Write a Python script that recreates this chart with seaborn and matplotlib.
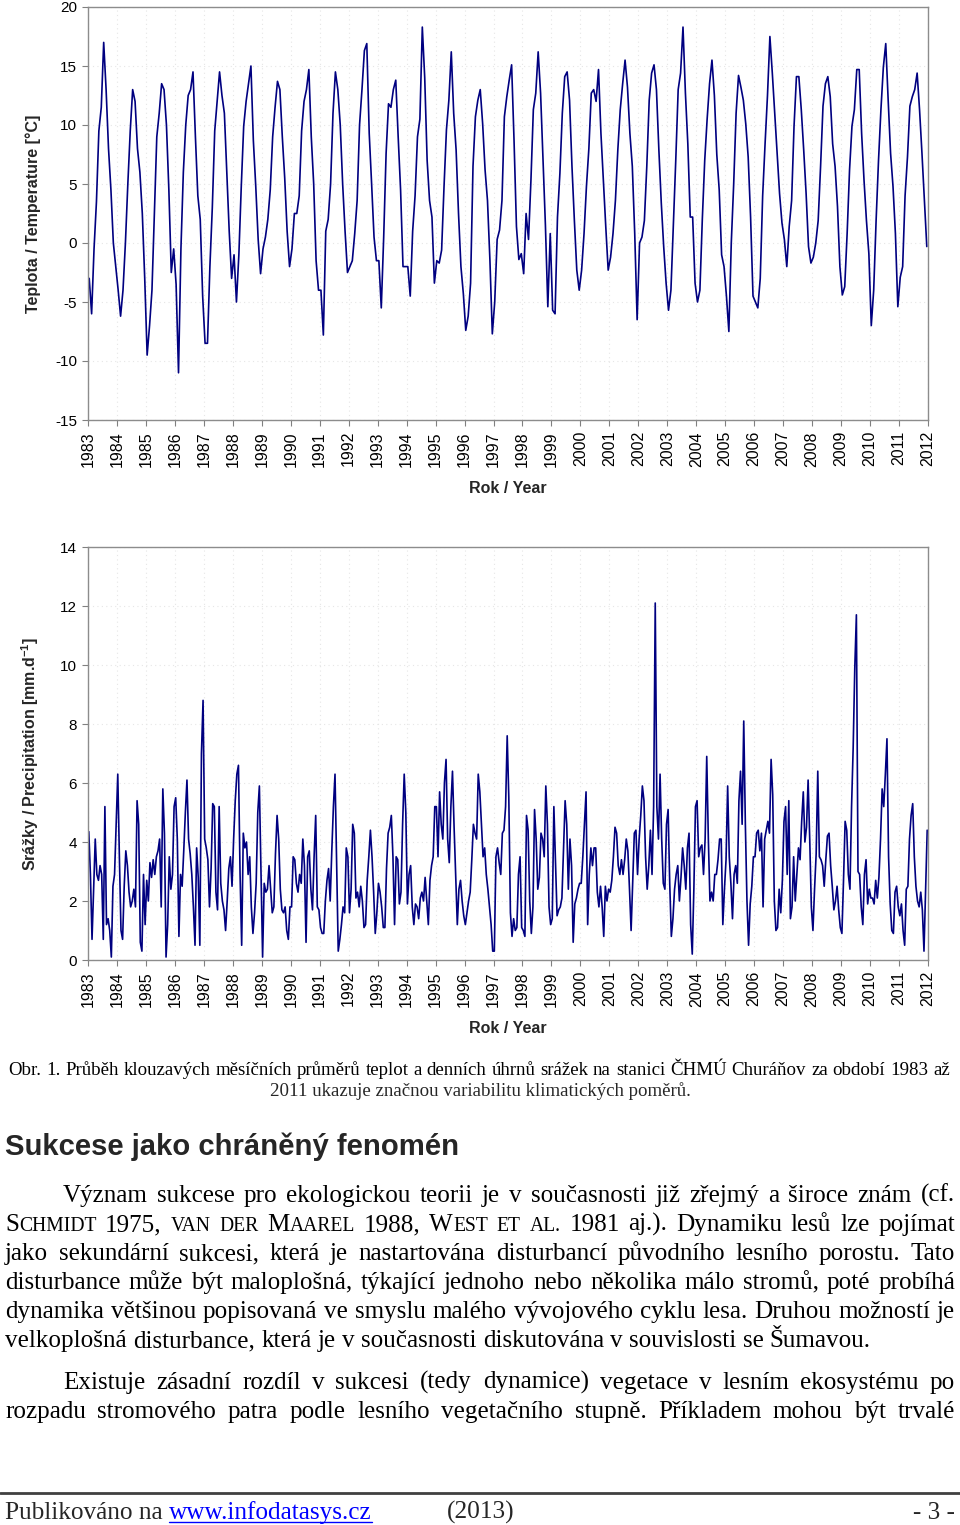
import matplotlib
matplotlib.use("Agg")
import matplotlib.pyplot as plt
import matplotlib.transforms as mtransforms
from matplotlib.lines import Line2D
import pandas as pd
import seaborn as sns

# roky s daty (klouzavé průměry 1983-2011) a popisky osy x
roky = list(range(1983, 2012))
popisky_let = [str(r) for r in range(1983, 2013)]

# klouzavé měsíční průměry teplot [°C], řádek = rok, sloupce leden..prosinec
teplota = [
    [-3, -6, -0.5, 3.5, 9.5, 11.5, 17, 13, 8, 4.5, 0, -2],            # 1983
    [-4, -6.2, -4, 0, 5, 9.5, 13, 12, 8, 6, 2.5, -3],                 # 1984
    [-9.5, -7, -4, 2.5, 9, 11, 13.5, 13, 10, 4.5, -2.5, -0.5],        # 1985
    [-3.5, -11, -0.5, 6, 10, 12.5, 13, 14.5, 9, 4, 2, -4.5],          # 1986
    [-8.5, -8.5, -2, 3, 9.5, 12, 14.5, 12.5, 11, 6, 1, -3],           # 1987
    [-1, -5, -1, 4.8, 9.9, 12, 13.5, 15, 8.7, 4.8, 0.3, -2.6],        # 1988
    [-0.5, 0.5, 2, 4.5, 9, 11.5, 13.7, 13, 9, 5.5, 1, -2],            # 1989
    [-0.5, 2.5, 2.5, 4, 9.5, 12, 13, 14.7, 9, 5, -1.5, -4],           # 1990
    [-4, -7.8, 1, 2, 5, 11, 14.5, 13, 10, 5, 1, -2.5],                # 1991
    [-2, -1.5, 0.8, 3.6, 10, 13, 16.3, 16.9, 9.3, 5, 0.5, -1.5],      # 1992
    [-1.5, -5.5, 0.5, 7.6, 11.8, 11.5, 13, 13.8, 9, 4.5, -2, -2],     # 1993
    [-2, -4.5, 1, 4, 9, 10.5, 18.3, 14, 7, 3.6, 2.2, -3.4],           # 1994
    [-1.5, -1.7, -0.6, 4.8, 9.6, 12.1, 16.2, 11, 7.9, 2.5, -2, -4.3], # 1995
    [-7.4, -6.2, -3.4, 6.5, 10.7, 12.1, 13, 10.1, 6.2, 3.6, -1.4, -7.7],  # 1996
    [-5, 0.3, 1.1, 3.6, 10.7, 12.4, 13.8, 15.1, 8.7, 1.4, -1.4, -0.9],    # 1997
    [-2.6, 2.5, 0.3, 5.3, 11.3, 12.7, 16.2, 12.7, 7, 1.5, -5.4, 0.8],     # 1998
    [-5.7, -6, 2.2, 5.9, 11, 14.1, 14.5, 12.1, 6.5, 1.9, -2.3, -4],       # 1999
    [-2.3, 0.8, 4.8, 8, 12.7, 13, 12, 14.7, 9.3, 5.3, 1.4, -2.3],         # 2000
    [-1.2, 0.8, 3.6, 7.9, 11.3, 13.5, 15.5, 13.2, 9.3, 6.5, 0.8, -6.5],   # 2001
    [0, 0.5, 1.9, 6.5, 12.1, 14.4, 15.1, 13, 7.9, 3.4, -0.3, -3.4],       # 2002
    [-5.7, -4, 1.4, 7, 13, 14.4, 18.3, 12.7, 8.4, 2.2, 2.2, -3.4],        # 2003
    [-5, -4, 2, 7, 10.5, 13.5, 15.5, 12.5, 7.5, 4.5, -1, -2],             # 2004
    [-4.5, -7.5, 0, 5, 11, 14.2, 13.2, 12.1, 10.1, 7.3, 2.2, -4.5],       # 2005
    [-5, -5.5, -3, 4, 8.4, 12.5, 17.5, 14.4, 11, 7.6, 4.2, 1.7],          # 2006
    [0.3, -2, 1.4, 3.6, 9.9, 14.1, 14.1, 11.3, 7.9, 4.2, -0.3, -1.7],     # 2007
    [-1.2, 0, 1.9, 6.5, 11.6, 13.5, 14.1, 12.4, 8.4, 6.5, 3.1, -2],       # 2008
    [-4.4, -3.7, 0.8, 6.2, 9.9, 11.3, 14.7, 14.7, 9.3, 5.3, 1.9, -0.9],   # 2009
    [-7, -4, 1.9, 7, 11.3, 14.9, 16.9, 12.1, 7.6, 4.8, 0.8, -5.4],        # 2010
    [-2.9, -2, 4, 7.3, 11.6, 12.4, 13, 14.4, 11.3, 7.6, 3.6, -0.3],       # 2011
]

# klouzavé průměry denních srážek [mm/d], 18 hodnot na rok
srazky = [
    [4.35, 2.9, 0.7, 2.4, 4.1, 2.9, 2.7, 3.2, 2.9, 0.7, 5.2, 1.2, 1.4, 1.0, 0.1, 2.5, 2.9, 4.6],  # 1983
    [6.3, 3.5, 1.0, 0.7, 2.5, 3.7, 3.2, 2.3, 1.8, 2.0, 2.4, 1.8, 5.4, 4.6, 0.6, 0.3, 2.9, 1.2],   # 1984
    [2.7, 2.0, 3.3, 2.8, 3.4, 2.9, 3.5, 3.7, 4.1, 1.8, 5.8, 4.3, 0.1, 1.2, 3.5, 2.4, 2.9, 5.2],   # 1985
    [5.5, 4.1, 0.8, 2.9, 2.5, 3.7, 5.0, 6.1, 4.1, 3.6, 2.9, 1.8, 0.5, 3.8, 2.8, 0.5, 7.0, 8.8],   # 1986
    [4.1, 3.8, 3.4, 1.8, 3.1, 5.3, 5.2, 2.3, 1.7, 5.2, 2.6, 2.0, 1.7, 1.0, 2.0, 3.1, 3.5, 2.5],   # 1987
    [4.1, 5.4, 6.3, 6.6, 2.9, 0.5, 4.3, 3.8, 4.0, 2.9, 3.5, 1.8, 0.9, 1.6, 2.6, 5.0, 5.9, 2.9],   # 1988
    [0.1, 2.6, 2.3, 2.4, 3.2, 2.4, 1.6, 1.8, 3.6, 4.9, 4.1, 2.4, 1.7, 1.6, 1.8, 1.0, 0.7, 1.8],   # 1989
    [1.8, 3.5, 3.4, 2.6, 2.3, 2.9, 2.6, 4.1, 3.2, 0.6, 3.5, 3.7, 2.4, 1.7, 3.5, 4.9, 1.8, 1.7],   # 1990
    [1.1, 0.9, 0.9, 2.0, 2.7, 3.1, 2.0, 3.7, 5.2, 6.3, 3.2, 0.3, 0.7, 1.2, 1.8, 1.6, 3.8, 3.5],   # 1991
    [1.6, 2.4, 4.6, 4.3, 2.1, 2.3, 1.8, 2.5, 2.0, 1.1, 1.2, 2.7, 3.5, 4.4, 3.5, 2.3, 0.9, 1.6],   # 1992
    [2.6, 2.3, 1.8, 1.1, 1.1, 3.1, 4.3, 4.5, 4.9, 3.5, 1.2, 3.5, 3.4, 1.9, 2.3, 4.6, 6.3, 5.0],   # 1993
    [1.9, 2.9, 3.2, 1.8, 1.2, 1.9, 1.8, 1.4, 2.1, 2.3, 2.0, 2.8, 2.0, 1.2, 2.7, 3.2, 3.5, 5.2],   # 1994
    [5.2, 3.5, 5.7, 4.6, 4.1, 6.0, 6.8, 4.1, 3.3, 5.2, 6.4, 4.5, 2.9, 1.2, 2.4, 2.7, 2.0, 1.5],   # 1995
    [1.2, 1.6, 2.0, 2.3, 3.4, 4.6, 4.3, 4.1, 6.3, 5.7, 4.6, 3.5, 3.8, 2.9, 2.4, 1.8, 1.2, 0.3],   # 1996
    [0.3, 3.5, 3.8, 3.3, 2.9, 4.3, 4.4, 5.2, 7.6, 5.5, 1.6, 0.8, 1.4, 1.0, 1.1, 2.9, 3.5, 1.1],   # 1997
    [1.0, 0.8, 4.9, 4.4, 2.0, 0.9, 1.8, 5.1, 4.1, 2.4, 2.8, 4.3, 4.1, 3.5, 5.9, 4.6, 1.8, 1.2],   # 1998
    [1.4, 5.2, 3.4, 1.5, 1.7, 1.8, 2.1, 3.7, 5.4, 4.6, 2.4, 4.1, 3.2, 0.6, 1.9, 2.1, 2.4, 2.6],   # 1999
    [2.6, 3.5, 4.6, 5.7, 1.2, 2.9, 3.8, 3.2, 3.8, 3.8, 2.3, 1.8, 2.5, 1.8, 0.8, 2.5, 2.0, 2.4],   # 2000
    [2.3, 2.7, 3.5, 4.5, 4.3, 3.2, 2.9, 3.4, 2.9, 3.4, 4.1, 3.7, 2.4, 1.0, 2.7, 4.3, 4.4, 2.9],   # 2001
    [4.1, 4.9, 5.9, 5.4, 3.5, 2.4, 3.2, 4.4, 2.9, 5.2, 12.1, 5.2, 4.1, 6.3, 4.1, 2.6, 2.4, 4.6],  # 2002
    [5.1, 2.6, 0.8, 1.4, 2.4, 2.9, 3.2, 2.0, 2.8, 3.8, 3.2, 2.4, 3.8, 4.3, 1.2, 0.2, 2.4, 5.2],   # 2003
    [5.4, 3.5, 3.8, 3.9, 2.9, 4.1, 6.9, 4.1, 2.0, 2.3, 2.0, 2.9, 2.9, 3.4, 4.1, 4.1, 1.2, 2.4],   # 2004
    [3.4, 5.9, 3.5, 2.6, 1.4, 2.9, 3.2, 2.6, 5.4, 6.4, 4.6, 8.1, 4.6, 2.0, 0.5, 1.9, 2.5, 3.5],   # 2005
    [3.5, 4.3, 4.4, 3.7, 4.3, 1.8, 4.1, 4.4, 4.7, 4.3, 6.8, 5.6, 2.0, 1.0, 1.1, 2.4, 1.6, 2.7],   # 2006
    [4.7, 5.2, 2.9, 5.4, 1.4, 1.8, 3.5, 2.0, 2.9, 3.8, 3.4, 4.7, 5.7, 4.0, 4.5, 6.1, 4.1, 1.8],   # 2007
    [1.0, 2.4, 3.6, 6.4, 3.5, 3.4, 3.2, 2.5, 3.4, 4.2, 4.3, 3.2, 2.5, 1.7, 2.0, 2.5, 1.7, 1.1],   # 2008
    [0.9, 2.7, 4.7, 4.4, 2.9, 2.4, 5.2, 7.2, 9.9, 11.7, 3.0, 2.9, 1.8, 1.2, 2.9, 3.4, 1.9, 2.4],  # 2009
    [2.1, 2.1, 1.9, 2.7, 2.1, 2.8, 4.1, 5.8, 5.2, 6.3, 7.5, 3.5, 1.9, 1.0, 0.9, 2.3, 2.5, 1.8],   # 2010
    [1.5, 1.9, 1.0, 0.5, 2.4, 2.5, 4.1, 4.9, 5.3, 3.5, 2.5, 2.0, 1.8, 2.3, 1.7, 0.3, 2.4, 4.4],   # 2011
]


def do_tabulky(rady, nazev):
    x, y = [], []
    for rok, rada in zip(roky, rady):
        n = len(rada)
        for i, v in enumerate(rada):
            x.append(rok + (i + 0.5) / n)
            y.append(v)
    return pd.DataFrame({"rok": x, nazev: y})


df_t = do_tabulky(teplota, "teplota")
df_s = do_tabulky(srazky, "srazky")

sns.set_theme(style="ticks")
plt.rcParams["font.family"] = ["Liberation Sans", "DejaVu Sans"]
plt.rcParams["axes.unicode_minus"] = False
plt.rcParams["mathtext.fontset"] = "custom"
plt.rcParams["mathtext.rm"] = "Liberation Sans"
plt.rcParams["mathtext.bf"] = "Liberation Sans:bold"

W, H = 960, 1525
fig = plt.figure(figsize=(W / 100, H / 100), dpi=100)
fig.patch.set_facecolor("white")
PX = mtransforms.IdentityTransform()


def osa(top, bottom):
    return fig.add_axes([88 / W, 1 - bottom / H, (928 - 88) / W, (bottom - top) / H])


ax1 = osa(7, 420)
ax2 = osa(547, 960)

sns.lineplot(data=df_t, x="rok", y="teplota", ax=ax1, color="#000080",
             linewidth=1.2, errorbar=None)
sns.lineplot(data=df_s, x="rok", y="srazky", ax=ax2, color="#000080",
             linewidth=1.2, errorbar=None)

nastaveni = [
    (ax1, (-15, 20), range(-15, 21, 5), "Teplota / Temperature [°C]"),
    (ax2, (0, 14), range(0, 15, 2), r"Srážky / Precipitation [mm.d$^{\mathbf{-1}}$]"),
]
for ax, ylim, yt, ylab in nastaveni:
    ax.set_facecolor("white")
    ax.set_xlim(1983, 2012)
    ax.set_ylim(*ylim)
    ax.set_yticks(list(yt))
    ax.set_xticks(range(1983, 2013))
    ax.set_xticklabels(popisky_let, rotation=90)
    ax.tick_params(axis="both", direction="out", length=4, width=0.8,
                   color="#808080", labelsize=11, pad=4, labelcolor="black")
    ax.tick_params(axis="x", labelsize=11.5)
    for s in ax.spines.values():
        s.set_visible(True)
        s.set_color("#8c8c8c")
        s.set_linewidth(1)
    ax.grid(True, color="#e6e6e6", linestyle=(0, (1, 3)), linewidth=0.8)
    ax.set_axisbelow(True)
    ax.set_xlabel("Rok / Year", fontsize=11.5, fontweight="bold")
    ax.xaxis.set_label_coords(0.5, -0.148)
    ax.set_ylabel(ylab, fontsize=11.5, fontweight="bold")
    ax.yaxis.set_label_coords(-0.056, 0.5)

# ---- text stránky ----
r = fig.canvas.get_renderer()
SERIF = ["Liberation Serif", "DejaVu Serif"]


def sirka(t):
    return t.get_window_extent(renderer=r).width


def velikost(text, family, cil, weight="normal", zaklad=16):
    t = fig.text(0, 0, text, fontsize=zaklad, family=family, weight=weight, transform=PX)
    w = sirka(t)
    t.remove()
    return zaklad * cil / w


def radek(slova, x0, x1, y, size, family=SERIF, zarovnat=True, barva="black"):
    kusy = []
    for w in slova:
        segs = w if isinstance(w, list) else [(w, size)]
        kusy.append([fig.text(0, 0, txt, fontsize=s, family=family, color=barva,
                              va="baseline", ha="left", transform=PX)
                     for txt, s in segs])
    sirky = [[sirka(t) for t in objs] for objs in kusy]
    celkem = sum(sum(w) for w in sirky)
    if zarovnat and len(kusy) > 1:
        mezera = (x1 - x0 - celkem) / (len(kusy) - 1)
    else:
        mezera = 0.25 * size * 100 / 72
    x = x0
    for objs, ws in zip(kusy, sirky):
        for t, w in zip(objs, ws):
            t.set_position((x, H - y))
            x += w
        x += mezera
    return x


vel_text = velikost("velkoplošná disturbance, která je v současnosti diskutována v souvislosti se Šumavou.",
                    SERIF, 867)
vel_popis = velikost("2011 ukazuje značnou variabilitu klimatických poměrů.", SERIF, 420)
vel_nadpis = velikost("Sukcese jako chráněný fenomén", ["Liberation Sans"], 453, weight="bold")
vel_pata = velikost("Publikováno na www.infodatasys.cz", SERIF, 367)

# popisek obrázku
radek("Obr. 1. Průběh klouzavých měsíčních průměrů teplot a denních úhrnů srážek na stanici "
      "ČHMÚ Churáňov za období 1983 až".split(), 8, 950, 1075, vel_popis)
fig.text(480, H - 1096, "2011 ukazuje značnou variabilitu klimatických poměrů.",
         fontsize=vel_popis, family=SERIF, ha="center", va="baseline", transform=PX)

# nadpis
fig.text(5, H - 1155, "Sukcese jako chráněný fenomén", fontsize=vel_nadpis,
         family=["Liberation Sans"], weight="bold", ha="left", va="baseline", transform=PX)

# odstavce
v = vel_text
m = v * 0.78  # kapitálky
radky = [
    (63, "Význam sukcese pro ekologickou teorii je v současnosti již zřejmý a široce znám (cf.".split(), True),
    (5, [[("S", v), ("CHMIDT", m)], "1975,", [("VAN", m)], [("DER", m)], [("M", v), ("AAREL", m)],
         "1988,", [("W", v), ("EST", m)], [("ET", m)], [("AL.", m)], "1981", "aj.).",
         "Dynamiku", "lesů", "lze", "pojímat"], True),
    (5, "jako sekundární sukcesi, která je nastartována disturbancí původního lesního porostu. Tato".split(), True),
    (5, "disturbance může být maloplošná, týkající jednoho nebo několika málo stromů, poté probíhá".split(), True),
    (5, "dynamika většinou popisovaná ve smyslu malého vývojového cyklu lesa. Druhou možností je".split(), True),
    (5, "velkoplošná disturbance, která je v současnosti diskutována v souvislosti se Šumavou.".split(), False),
]
for i, (x0, slova, zar) in enumerate(radky):
    radek(slova, x0, 955, 1202 + 29 * i, v, zarovnat=zar)

radek("Existuje zásadní rozdíl v sukcesi (tedy dynamice) vegetace v lesním ekosystému po".split(),
      63, 955, 1389, v)
radek("rozpadu stromového patra podle lesního vegetačního stupně. Příkladem mohou být trvalé".split(),
      5, 955, 1418, v)

# pata stránky
fig.add_artist(Line2D([0, W], [H - 1493, H - 1493], transform=PX, color="#404040", linewidth=2))
t = fig.text(5, H - 1519, "Publikováno na ", fontsize=vel_pata, family=SERIF,
             ha="left", va="baseline", transform=PX)
x_odkaz = 5 + sirka(t)
t2 = fig.text(x_odkaz, H - 1519, "www.infodatasys.cz", fontsize=vel_pata, family=SERIF,
              color="#0000ff", ha="left", va="baseline", transform=PX)
fig.add_artist(Line2D([x_odkaz, x_odkaz + sirka(t2)], [H - 1521.5, H - 1521.5], transform=PX,
                      color="#0000ff", linewidth=1))
fig.text(447, H - 1519, "(2013)", fontsize=vel_pata, family=SERIF,
         ha="left", va="baseline", transform=PX)
fig.text(955, H - 1519, "- 3 -", fontsize=vel_pata, family=SERIF,
         ha="right", va="baseline", transform=PX)

fig.savefig("out.png", dpi=100, facecolor="white")
